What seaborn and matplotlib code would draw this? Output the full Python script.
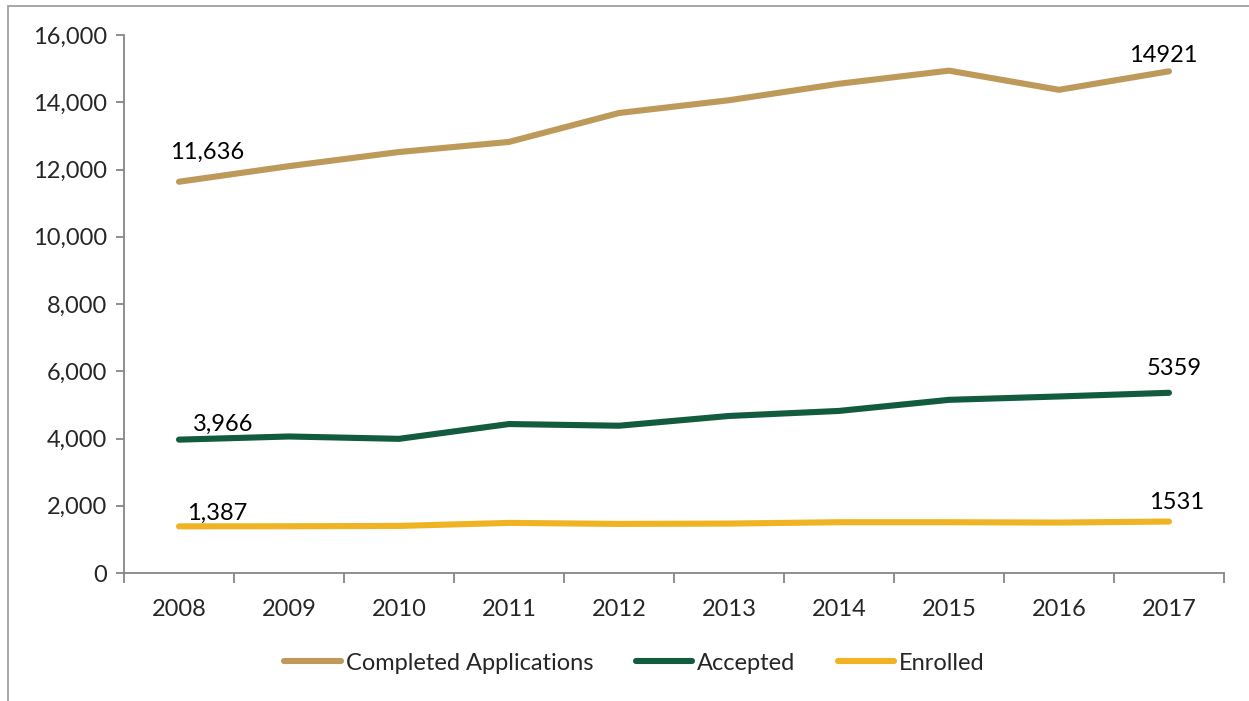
import matplotlib.pyplot as plt
import numpy as np
import pandas as pd
import seaborn as sns
from matplotlib.patches import Rectangle

years = ["2008", "2009", "2010", "2011", "2012", "2013", "2014", "2015", "2016", "2017"]
completed = [11636, 12100, 12520, 12820, 13680, 14060, 14550, 14940, 14370, 14921]
accepted = [3966, 4060, 3990, 4430, 4380, 4670, 4820, 5150, 5250, 5359]
enrolled = [1387, 1390, 1400, 1490, 1460, 1470, 1510, 1510, 1500, 1531]
series_names = ["Completed Applications", "Accepted", "Enrolled"]
colors = ["#BD9A5A", "#125B3F", "#F0B323"]

df = pd.concat([
    pd.DataFrame({"year": years, "value": vals, "series": name})
    for name, vals in zip(series_names, [completed, accepted, enrolled])
])

sns.set_style("white")
plt.rcParams["font.family"] = ["Lato", "DejaVu Sans"]
FS = 17

fig = plt.figure(figsize=(12.49, 7.01), dpi=100)
ax = fig.add_axes([124 / 1249, 128 / 701, 1100 / 1249, 538 / 701])

sns.lineplot(data=df, x="year", y="value", hue="series", hue_order=series_names,
             palette=colors, linewidth=4.4, ax=ax, legend=True,
             solid_capstyle="round", sort=False)

ax.set_xlim(-0.5, len(years) - 0.5)
ax.set_ylim(0, 16000)
ax.set_yticks(np.arange(0, 16001, 2000))
ax.set_yticklabels([f"{v:,}" for v in range(0, 16001, 2000)])
ax.set_xticks(range(len(years)))
ax.set_xticklabels(years)
ax.set_xticks(np.arange(-0.5, len(years), 1), minor=True)
ax.tick_params(axis="x", which="major", length=0, pad=19, labelsize=FS)
ax.tick_params(axis="x", which="minor", length=7, width=1.3, color="#868686", direction="out")
ax.tick_params(axis="y", length=6, width=1.3, color="#868686", direction="out", pad=6, labelsize=FS)
ax.tick_params(bottom=True, left=True, which="both")
ax.set_xlabel("")
ax.set_ylabel("")
for side in ["top", "right"]:
    ax.spines[side].set_visible(False)
for side in ["left", "bottom"]:
    ax.spines[side].set_color("#868686")
    ax.spines[side].set_linewidth(1.3)

# data labels on first and last points
first_vals = [completed[0], accepted[0], enrolled[0]]
last_vals = [completed[-1], accepted[-1], enrolled[-1]]
first_pos = [(0.26, 884), (0.40, 465), (0.35, 397)]
last_pos = [(8.95, 484), (9.05, 708), (9.07, 551)]
for v, (x, dy) in zip(first_vals, first_pos):
    ax.text(x, v + dy, f"{v:,}", fontsize=FS, ha="center", va="center", color="black")
for v, (x, dy) in zip(last_vals, last_pos):
    ax.text(x, v + dy, str(v), fontsize=FS, ha="center", va="center", color="black")

handles, labels = ax.get_legend_handles_labels()
ax.legend_.remove()
for h in handles:
    h.set_linewidth(4.4)
    h.set_solid_capstyle("round")
fig.legend(handles, labels, loc="center", bbox_to_anchor=(0.508, (701 - 663) / 701),
           ncol=3, frameon=False, fontsize=FS, handlelength=2.4, handletextpad=0.2,
           columnspacing=1.8)

fig.patches.append(Rectangle((8 / 1249, -0.2), 1.5, (701 - 6) / 701 + 0.2,
                             transform=fig.transFigure, fill=False,
                             edgecolor="#A0A0A0", linewidth=1.3, clip_on=False))

fig.savefig("out.png", dpi=100)
